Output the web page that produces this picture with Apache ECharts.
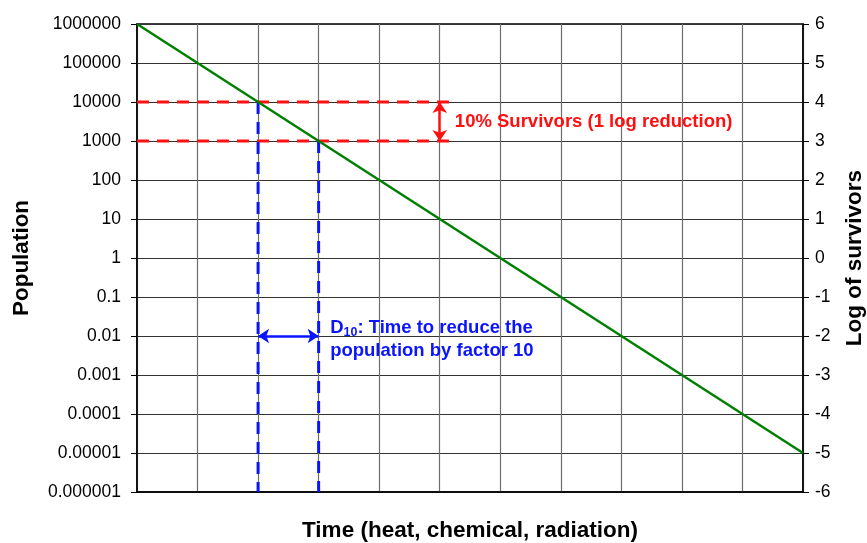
<!DOCTYPE html>
<html>
<head>
<meta charset="utf-8">
<script src="https://cdn.jsdelivr.net/npm/echarts@6/dist/echarts.min.js"></script>
<style>
html,body{margin:0;padding:0;background:#fff;}
#c{width:867px;height:543px;}
</style>
</head>
<body>
<div id="c"></div>
<script>
// ---- data ----
const time = [0, 11];
const population = [1000000, 0.00001];
const leftTickLabels = ['0.000001','0.00001','0.0001','0.001','0.01','0.1','1','10','100','1000','10000','100000','1000000'];
const rightTickLabels = ['-6','-5','-4','-3','-2','-1','0','1','2','3','4','5','6'];
const d10Times = [2, 3];
const d10Pops = [10000, 1000];
const redLineEndTime = 5.25;
const redArrowTime = 5;
const blueArrowPop = 0.01;
const redText = '10% Survivors (1 log reduction)';
const blueTextLine1 = 'Time to reduce the';
const blueTextLine2 = 'population by factor 10';

const L = Math.log10;
const FONT = '"Liberation Sans", Arial, sans-serif';

const chart = echarts.init(document.getElementById('c'), null, {renderer: 'canvas'});

const RED = '#ff1010';
const BLUE = '#0a14ff';
const redDash = {color: RED, width: 3, type: [12, 8]};
const blueDash = {color: BLUE, width: 3, type: [12, 8]};

const option = {
  animation: false,
  backgroundColor: '#fff',
  grid: {left: 137, right: 64, top: 24, bottom: 51, containLabel: false, outerBoundsMode: 'none',
    show: true, borderColor: '#000', borderWidth: 1.5, backgroundColor: 'transparent'},
  xAxis: {
    type: 'value', min: 0, max: 11, interval: 1,
    name: 'Time (heat, chemical, radiation)', nameLocation: 'middle', nameGap: 27,
    nameTextStyle: {fontFamily: FONT, fontSize: 22.5, fontWeight: 'bold', color: '#000'},
    axisLine: {show: true, onZero: false, lineStyle: {color: '#000', width: 1.5}},
    axisTick: {show: false}, axisLabel: {show: false},
    splitLine: {show: true, lineStyle: {color: '#6e6e6e', width: 1.2}}
  },
  yAxis: [{
    type: 'value', min: -6, max: 6, interval: 1, position: 'left',
    name: 'Population', nameLocation: 'middle', nameGap: 104, nameRotate: 90,
    nameTextStyle: {fontFamily: FONT, fontSize: 22.5, fontWeight: 'bold', color: '#000'},
    axisLine: {show: true, onZero: false, lineStyle: {color: '#000', width: 1.5}},
    axisTick: {show: true, length: 6, lineStyle: {color: '#000'}},
    axisLabel: {margin: 16, color: '#000', fontFamily: FONT, fontSize: 17.5,
      formatter: v => leftTickLabels[Math.round(v) + 6]},
    splitLine: {show: true, lineStyle: {color: '#333', width: 1.2}}
  }, {
    type: 'value', min: -6, max: 6, interval: 1, position: 'right',
    name: 'Log of survivors', nameLocation: 'middle', nameGap: 40, nameRotate: 90,
    nameTextStyle: {fontFamily: FONT, fontSize: 22.5, fontWeight: 'bold', color: '#000', verticalAlign: 'top'},
    axisLine: {show: true, onZero: false, lineStyle: {color: '#000', width: 1.5}},
    axisTick: {show: true, length: 6, lineStyle: {color: '#000'}},
    axisLabel: {margin: 12, color: '#000', fontFamily: FONT, fontSize: 17.5,
      formatter: v => rightTickLabels[Math.round(v) + 6]},
    splitLine: {show: false}
  }],
  series: [
    ...d10Pops.map(p => ({
      type: 'line', symbol: 'none', silent: true, z: 3,
      data: [[0, L(p)], [redLineEndTime, L(p)]], lineStyle: redDash
    })),
    ...d10Times.map((t, i) => ({
      type: 'line', symbol: 'none', silent: true, z: 3,
      data: [[t, L(d10Pops[i])], [t, -6]], lineStyle: blueDash
    })),
    {
      type: 'line', symbol: 'none', z: 4,
      data: time.map((t, i) => [t, L(population[i])]),
      lineStyle: {color: '#008000', width: 2.5}
    },
    {
      type: 'lines', coordinateSystem: 'cartesian2d', z: 5,
      symbol: ['arrow', 'arrow'], symbolSize: 11,
      data: [
        {coords: [[redArrowTime, L(d10Pops[0])], [redArrowTime, L(d10Pops[1])]], lineStyle: {color: RED, width: 2.5, type: 'solid', opacity: 1}},
        {coords: [[d10Times[0], L(blueArrowPop)], [d10Times[1], L(blueArrowPop)]], lineStyle: {color: BLUE, width: 2.5, type: 'solid', opacity: 1}}
      ]
    },
    {
      type: 'scatter', symbolSize: 0, silent: true, z: 6,
      itemStyle: {opacity: 1},
      data: [
        {value: [redLineEndTime, (L(d10Pops[0]) + L(d10Pops[1])) / 2],
          label: {show: true, position: 'right', distance: 0, formatter: redText, opacity: 1,
            color: RED, fontFamily: FONT, fontSize: 18.5, fontWeight: 'bold'}},
        {value: [3.19, -2.08],
          label: {show: true, position: 'right', distance: 0, lineHeight: 23, opacity: 1,
            formatter: '{a|D}{s|10}{a|: ' + blueTextLine1 + '}\n{a|' + blueTextLine2 + '}',
            rich: {
              a: {color: BLUE, fontFamily: FONT, fontSize: 18.5, fontWeight: 'bold', lineHeight: 23},
              s: {color: BLUE, fontFamily: FONT, fontSize: 12.5, fontWeight: 'bold', verticalAlign: 'bottom', padding: [7, 0, 0, 0], lineHeight: 23}
            }}}
      ]
    }
  ]
};
chart.setOption(option);
</script>
</body>
</html>
